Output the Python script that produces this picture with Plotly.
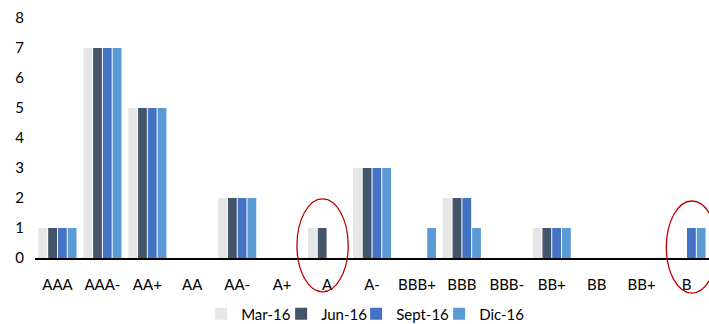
import plotly.graph_objects as go

# Rating categories (note: "BB+" appears twice on the axis)
ratings = ["AAA", "AAA-", "AA+", "AA", "AA-", "A+", "A", "A-",
           "BBB+", "BBB", "BBB-", "BB+", "BB", "BB+", "B"]

mar_16 = [1, 7, 5, 0, 2, 0, 1, 3, 0, 2, 0, 1, 0, 0, 0]
jun_16 = [1, 7, 5, 0, 2, 0, 1, 3, 0, 2, 0, 1, 0, 0, 0]
sept_16 = [1, 7, 5, 0, 2, 0, 0, 3, 0, 2, 0, 1, 0, 0, 1]
dic_16 = [1, 7, 5, 0, 2, 0, 0, 3, 1, 1, 0, 1, 0, 0, 1]

series = [
    ("Mar-16", mar_16, "#E7E6E6", 35),
    ("Jun-16", jun_16, "#44546A", 30),
    ("Sept-16", sept_16, "#4472C4", 38),
    ("Dic-16", dic_16, "#5B9BD5", 45),
]

positions = list(range(len(ratings)))
x_min, x_max = -0.5, len(ratings) - 0.5
y_max = 8

fig = go.Figure()
for name, values, color, entry_w in series:
    fig.add_trace(go.Bar(
        x=positions, y=values, name=name, legendwidth=entry_w,
        marker=dict(color=color, line=dict(width=0)),
    ))

FONT = "Lato, Open Sans, sans-serif"


def to_paper_x(v):
    return (v - x_min) / (x_max - x_min)


# Highlight circles around the "A" and "B" groups
highlights = [
    (6 - 0.1, 0.57, 1.97, -1.13),
    (14 + 0.12, 0.57, 1.9, -1.17),
]
shapes = []
for cx, half_w, top, bottom in highlights:
    shapes.append(dict(
        type="circle", xref="paper", yref="paper",
        x0=to_paper_x(cx - half_w), x1=to_paper_x(cx + half_w),
        y0=bottom / y_max, y1=top / y_max,
        line=dict(color="#C00000", width=1.3),
        fillcolor="rgba(0,0,0,0)", layer="above",
    ))

fig.update_layout(
    width=709, height=324,
    margin=dict(l=35, r=0, t=18, b=66),
    paper_bgcolor="white", plot_bgcolor="white",
    barmode="group", bargap=0.13, bargroupgap=0.1,
    font=dict(family=FONT, size=15, color="#000000"),
    showlegend=True,
    legend=dict(
        orientation="h", xref="container", yref="container",
        x=0.515, xanchor="center", y=0.031, yanchor="middle",
        font=dict(family=FONT, size=15, color="#000000"),
        itemwidth=30, traceorder="normal",
    ),
    xaxis=dict(
        range=[x_min, x_max], tickmode="array",
        tickvals=positions, ticktext=ratings,
        showgrid=False, zeroline=False, showline=True,
        linecolor="#000000", linewidth=1.5, ticks="", ticklen=0,
        ticklabelstandoff=12,
        tickfont=dict(family=FONT, size=15),
    ),
    yaxis=dict(
        range=[0, y_max], dtick=1, showgrid=False, zeroline=False,
        showline=False, ticks="", ticklabelstandoff=10,
        tickfont=dict(family=FONT, size=15),
    ),
    shapes=shapes,
)

fig.write_html("out.html")
